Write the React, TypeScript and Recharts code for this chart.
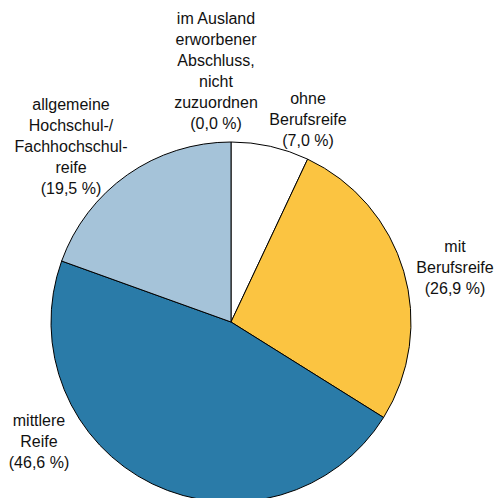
import React from "react";
import { PieChart, Pie, Cell } from "recharts";

const categories: string[] = [
  "ohne\nBerufsreife",
  "mit\nBerufsreife",
  "mittlere\nReife",
  "allgemeine\nHochschul-/\nFachhochschul-\nreife",
  "im Ausland\nerworbener\nAbschluss,\nnicht\nzuzuordnen",
];
const shares: number[] = [7.0, 26.9, 46.6, 19.5, 0.0];
const colors: string[] = ["#FFFFFF", "#FBC441", "#2A7BA8", "#A5C3D9", "#FFFFFF"];

// label first-line baseline offsets (px) relative to pie centre, per slice
const labelOffsets: [number, number][] = [
  [77, -218],
  [224, -70],
  [-192, 104],
  [-160, -212],
  [-15, -298],
];

const data = categories.map((name, i) => ({ name, value: shares[i] }));

const fmt = (v: number) => "(" + v.toFixed(1).replace(".", ",") + " %)";

const renderLabel = (props: any) => {
  const { cx, cy, index, value } = props;
  const [dx, dy] = labelOffsets[index];
  const lines = [...categories[index].split("\n"), fmt(value)];
  const lh = 21;
  const x = cx + dx;
  const y0 = cy + dy;
  return (
    <text
      key={"lbl" + index}
      x={x}
      y={y0}
      textAnchor="middle"
      fontFamily="Liberation Sans, Arial, sans-serif"
      fontSize={16}
      fill="#111"
    >
      {lines.map((l, k) => (
        <tspan key={k} x={x} y={y0 + k * lh}>
          {l}
        </tspan>
      ))}
    </text>
  );
};

export default function App() {
  return (
    <div style={{ position: "absolute", left: 0, top: 0 }}>
      <PieChart width={497} height={498} margin={{ top: 0, right: 0, bottom: 0, left: 0 }}>
        <Pie
          data={data}
          dataKey="value"
          nameKey="name"
          cx={231}
          cy={322}
          outerRadius={180}
          startAngle={90}
          endAngle={-270}
          stroke="#000"
          strokeWidth={1}
          label={renderLabel}
          labelLine={false}
          isAnimationActive={false}
        >
          {data.map((d, i) => (
            <Cell key={i} fill={colors[i]} />
          ))}
        </Pie>
      </PieChart>
    </div>
  );
}
